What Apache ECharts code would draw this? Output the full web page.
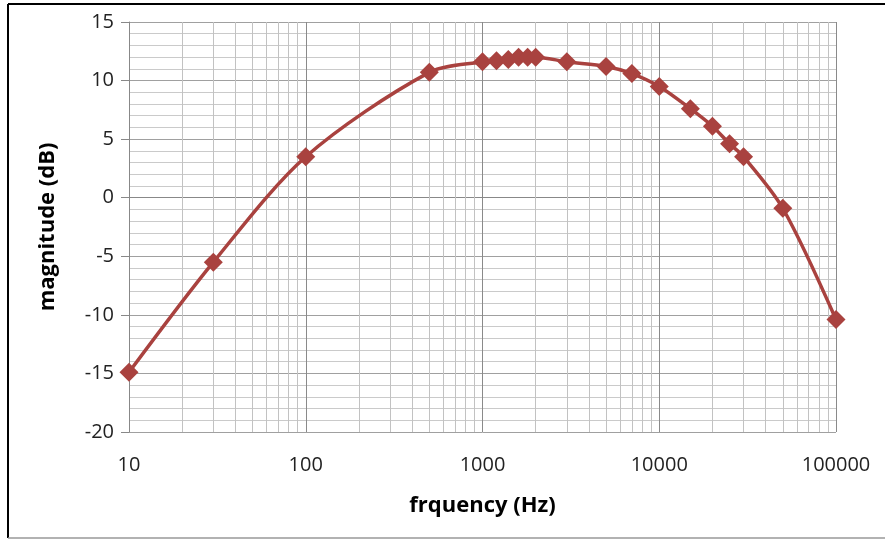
<!DOCTYPE html>
<html>
<head>
<meta charset="utf-8">
<script src="https://cdn.jsdelivr.net/npm/echarts@6/dist/echarts.min.js"></script>
<style>
html,body{margin:0;padding:0;background:#fff;}
#chart{width:885px;height:539px;}
</style>
</head>
<body>
<div id="chart"></div>
<script>
const frequencies = [10, 30, 100, 500, 1000, 1200, 1400, 1600, 1800, 2000, 3000, 5000, 7000, 10000, 15000, 20000, 25000, 30000, 50000, 100000];
const magnitudes = [-14.9, -5.5, 3.5, 10.7, 11.6, 11.7, 11.8, 12.0, 12.0, 12.0, 11.6, 11.2, 10.6, 9.5, 7.6, 6.1, 4.6, 3.5, -0.9, -10.4];
const xMinorLines = [20,30,40,50,60,70,80,90,200,300,400,500,600,700,800,900,2000,3000,4000,5000,6000,7000,8000,9000,20000,30000,40000,50000,60000,70000,80000,90000];
const xTitle = 'frquency (Hz)';
const yTitle = 'magnitude (dB)';

const FONT = 'Open Sans';
const chart = echarts.init(document.getElementById('chart'));
chart.setOption({
  animation: false,
  backgroundColor: '#fff',
  graphic: [
    {type: 'line', shape: {x1: 8, y1: 4, x2: 885, y2: 4}, style: {stroke: '#000', lineWidth: 2}},
    {type: 'line', shape: {x1: 8, y1: 4, x2: 8, y2: 538}, style: {stroke: '#000', lineWidth: 2}},
    {type: 'line', shape: {x1: 8, y1: 538, x2: 885, y2: 538}, style: {stroke: '#999', lineWidth: 1.5}}
  ],
  grid: {left: 129, right: 49, top: 22, bottom: 107, containLabel: false},
  xAxis: {
    type: 'log', logBase: 10, min: 10, max: 100000,
    name: xTitle, nameLocation: 'middle', nameGap: 63,
    nameTextStyle: {fontFamily: FONT, fontWeight: 'bold', fontSize: 22, color: '#000'},
    axisLine: {show: true, lineStyle: {color: '#888', width: 1}},
    axisTick: {show: false},
    axisLabel: {fontFamily: FONT, fontSize: 20, color: '#222', margin: 23,
      formatter: v => String(Math.round(v))},
    splitLine: {show: true, lineStyle: {color: '#8a8a8a', width: 1}},
    minorTick: {show: false}
  },
  yAxis: {
    type: 'value', min: -20, max: 15, interval: 5,
    name: yTitle, nameLocation: 'middle', nameGap: 70,
    nameTextStyle: {fontFamily: FONT, fontWeight: 'bold', fontSize: 22, color: '#000'},
    axisLine: {show: true, lineStyle: {color: '#888', width: 1}},
    axisTick: {show: true, inside: false, length: 8, lineStyle: {color: '#888'}},
    axisLabel: {fontFamily: FONT, fontSize: 20, color: '#222', margin: 15},
    splitLine: {show: true, lineStyle: {color: '#a0a0a0', width: 1}},
    minorTick: {show: false, splitNumber: 5},
    minorSplitLine: {show: true, lineStyle: {color: '#cacaca', width: 1}}
  },
  series: [
    {
      type: 'line', data: [], silent: true, z: 1,
      markLine: {
        silent: true, symbol: ['none', 'none'], label: {show: false},
        lineStyle: {color: '#c2c2c2', width: 1, type: 'solid'},
        data: xMinorLines.map(v => ({xAxis: v}))
      }
    },
    {
      type: 'line', z: 5,
      data: frequencies.map((f, i) => [f, magnitudes[i]]),
      smooth: 0.3,
      symbol: 'diamond', symbolSize: 19,
      lineStyle: {color: '#A9423F', width: 3.5},
      itemStyle: {color: '#A9423F'}
    }
  ]
});
</script>
</body>
</html>
